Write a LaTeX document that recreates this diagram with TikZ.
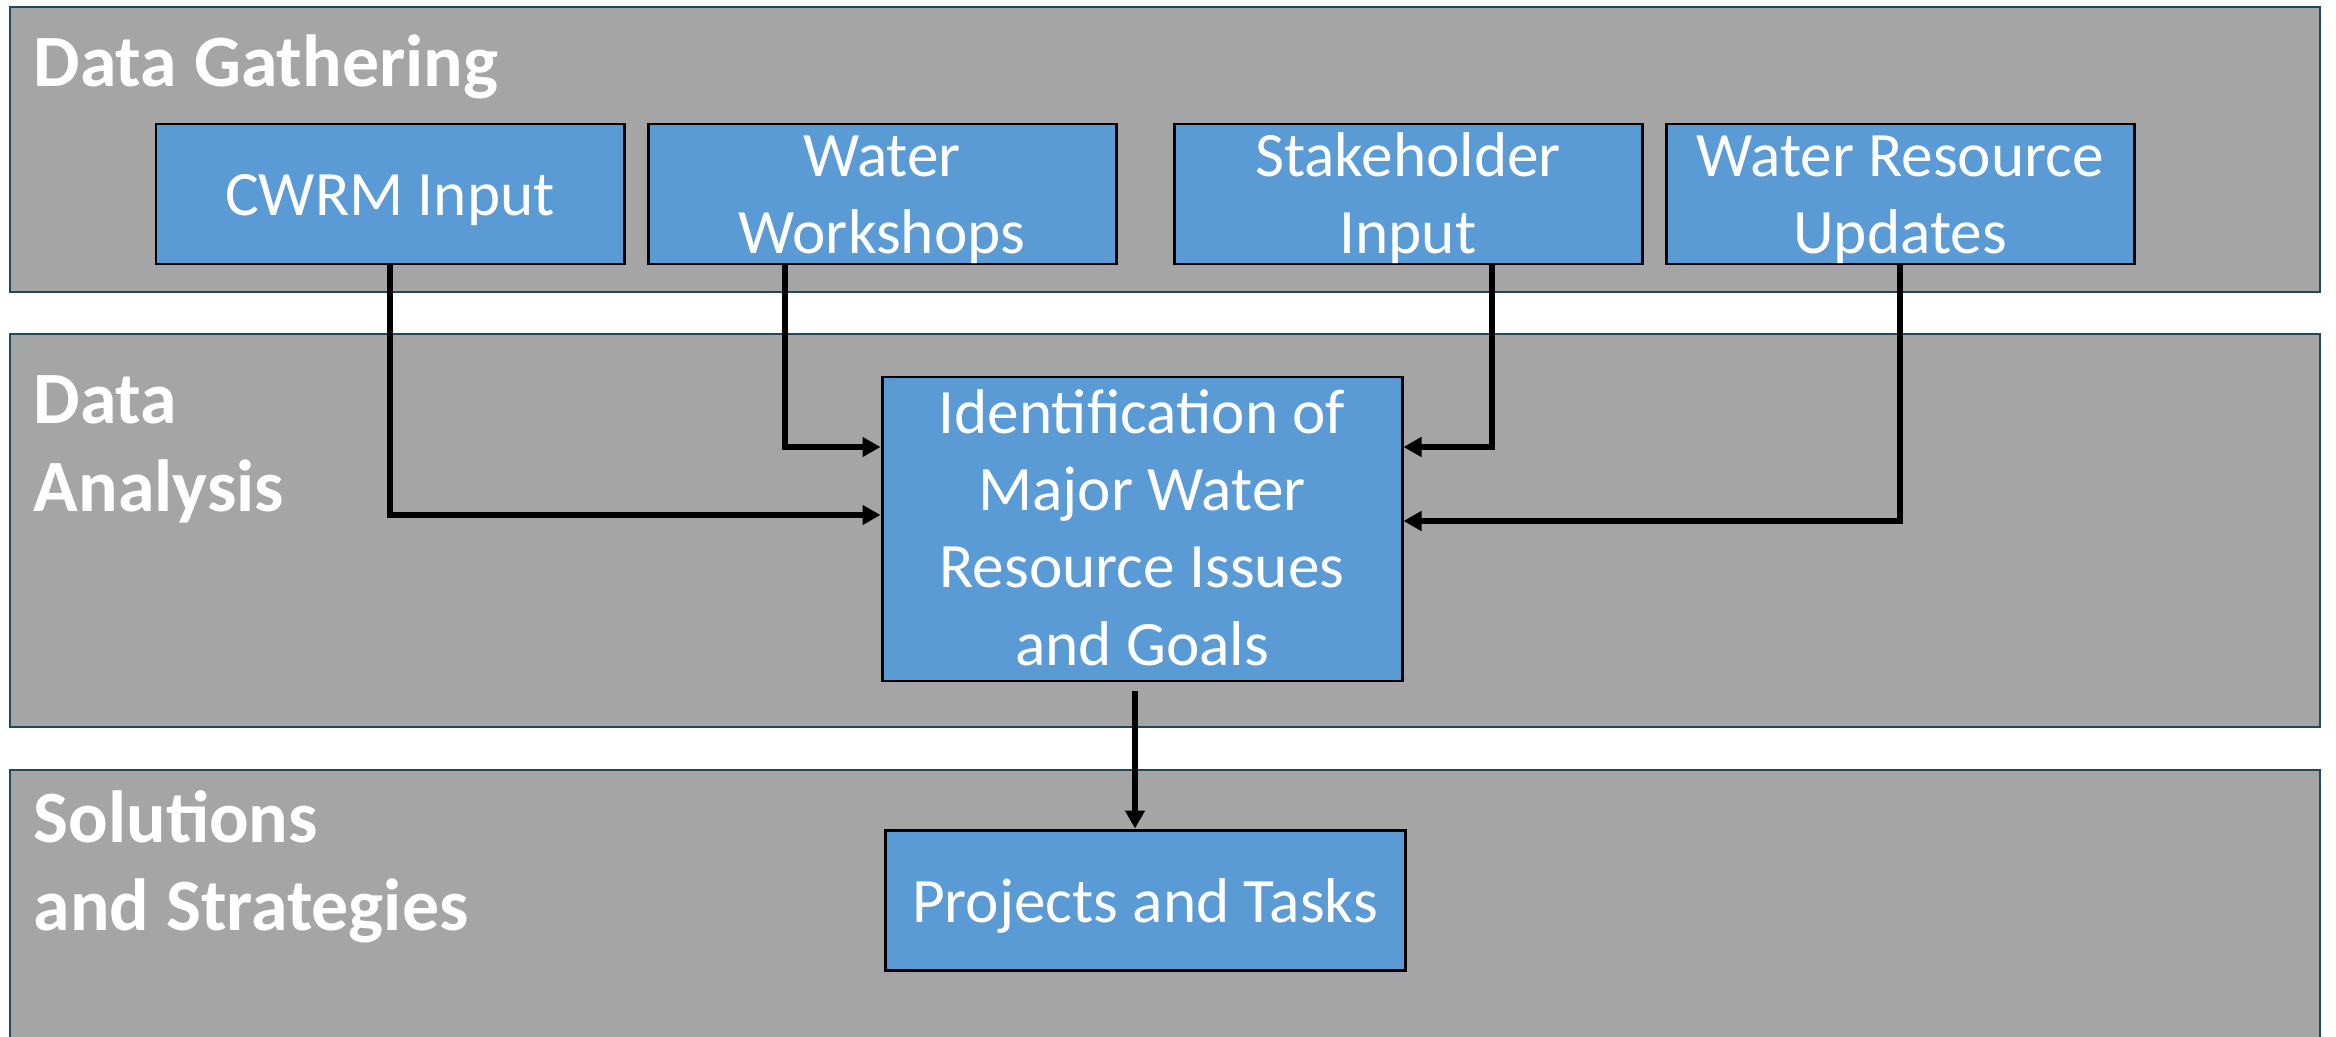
\documentclass[tikz,border=0pt]{standalone}
\usepackage{fontspec}
\setmainfont{Carlito}
\usetikzlibrary{positioning,calc,arrows.meta}
\definecolor{bandgray}{HTML}{A5A5A5}
\definecolor{bandedge}{HTML}{1F4A5E}
\definecolor{boxblue}{HTML}{5B9BD5}
\tikzstyle{block} = [draw=black, line width=0.85pt, fill=boxblue, rectangle, minimum height=1.4cm, minimum width=4.68cm, inner sep=0pt, align=center, text=white, font=\fontsize{18}{22}\selectfont, text height=0.44cm, text depth=0cm]
\tikzstyle{twoline} = [text height=1.20cm]
\tikzstyle{band} = [draw=bandedge, line width=0.6pt, fill=bandgray]
\tikzstyle{bandlabel} = [anchor=base west, inner sep=0pt, align=left, text=white, font=\fontsize{21}{25}\selectfont\bfseries]
\tikzstyle{feed} = [->, line width=1.5pt]

\begin{document}
\begin{tikzpicture}[>={Triangle[length=0.18cm,width=0.19cm]}]
        \useasboundingbox (0,0) rectangle (23.36,-10.37);
        \clip (0,0) rectangle (23.36,-10.37);

        % the three stages
        \draw [band] (0.10,-0.07) rectangle (23.20,-2.92);
        \draw [band] (0.10,-3.34) rectangle (23.20,-7.27);
        \draw [band] (0.10,-7.70) rectangle (23.20,-10.60);
        \node [bandlabel] (gather) at (0.33,-0.87) {Data Gathering};
        \node [bandlabel] (analysis) at (0.33,-5.11) {Data\\Analysis};
        \node [bandlabel] (solutions) at (0.33,-9.30) {Solutions\\and Strategies};

        \node [block] (cwrm) at (3.90,-1.94) {CWRM Input};
        \node [block, twoline, right of=cwrm, node distance=4.92cm] (ws) {Water\\Workshops};
        \node [block, twoline, right of=ws, node distance=5.26cm] (sh) {Stakeholder\\Input};
        \node [block, twoline, right of=sh, node distance=4.92cm] (wru) {Water Resource\\Updates};
        \node [block, minimum width=5.2cm, minimum height=3.04cm, text height=2.72cm] (ident) at (11.42,-5.29) {Identification of\\Major Water\\Resource Issues\\and Goals};
        \node [block, minimum width=5.2cm, below of=ident, node distance=3.71cm, xshift=0.03cm] (proj) {Projects and Tasks};

        \draw [feed] (cwrm.south) |- ($(ident.west)+(0,0.14)$);
        \draw [feed] ([xshift=-0.97cm]ws.south) |- ($(ident.west)+(0,0.82)$);
        \draw [feed] ([xshift=0.84cm]sh.south) |- ($(ident.east)+(0,0.82)$);
        \draw [feed] (wru.south) |- ($(ident.east)+(0,0.08)$);
        \draw [feed] ([shift={(-0.07,-0.09)}]ident.south) -- ([xshift=-0.10cm]proj.north);
    \end{tikzpicture}
\end{document}
